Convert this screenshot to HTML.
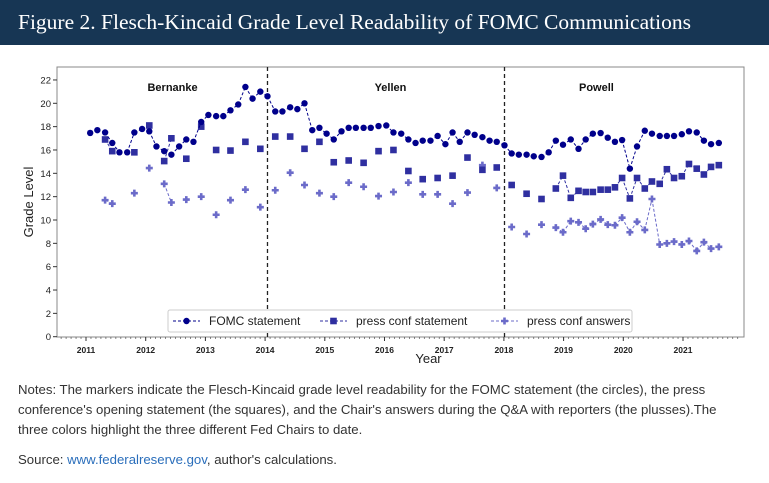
<!DOCTYPE html>
<html><head><meta charset="utf-8"><style>
body{margin:0;width:769px;height:483px;background:#fff;overflow:hidden;font-family:"Liberation Sans",sans-serif}
#hdr{position:absolute;left:0;top:0;width:769px;height:45px;background:#173654;color:#fff;font-family:"Liberation Serif",serif;font-size:21.5px;line-height:45px;padding-left:18px;box-sizing:border-box}
#notes{position:absolute;left:18px;top:380px;width:732px;font-size:13.2px;line-height:20px;color:#333}
#src{position:absolute;left:18px;top:452px;font-size:13.2px;color:#333}
#src span{color:#2a6ebb}
svg{position:absolute;left:0;top:0}
</style></head><body>
<div id="hdr">Figure 2. Flesch-Kincaid Grade Level Readability of FOMC Communications</div>
<svg id="chart" width="769" height="380"></svg>
<div id="notes">Notes: The markers indicate the Flesch-Kincaid grade level readability for the FOMC statement (the circles), the press conference's opening statement (the squares), and the Chair's answers during the Q&amp;A with reporters (the plusses).The three colors highlight the three different Fed Chairs to date.</div>
<div id="src">Source: <span>www.federalreserve.gov</span>, author's calculations.</div>
<script>
const fomcDates=[2011.07,2011.19,2011.32,2011.44,2011.56,2011.69,2011.81,2011.94,2012.06,2012.18,2012.31,2012.43,2012.56,2012.68,2012.80,2012.93,2013.05,2013.18,2013.30,2013.42,2013.55,2013.67,2013.79,2013.92,2014.04,2014.17,2014.29,2014.42,2014.54,2014.66,2014.79,2014.91,2015.03,2015.15,2015.28,2015.40,2015.52,2015.65,2015.77,2015.90,2016.03,2016.15,2016.28,2016.40,2016.52,2016.64,2016.77,2016.89,2017.02,2017.14,2017.26,2017.39,2017.51,2017.64,2017.76,2017.88,2018.01,2018.13,2018.25,2018.38,2018.50,2018.63,2018.75,2018.87,2018.99,2019.12,2019.25,2019.37,2019.49,2019.62,2019.74,2019.86,2019.98,2020.11,2020.23,2020.36,2020.48,2020.61,2020.73,2020.85,2020.98,2021.10,2021.23,2021.35,2021.47,2021.60];
const fomcValues=[17.46,17.7,17.5,16.6,15.8,15.8,17.5,17.8,17.6,16.3,15.9,15.6,16.3,16.9,16.7,18.4,19.0,18.9,18.9,19.4,19.9,21.4,20.4,21.0,20.6,19.3,19.3,19.66,19.5,20.0,17.7,17.9,17.4,16.9,17.6,17.9,17.9,17.9,17.9,18.05,18.1,17.5,17.4,16.9,16.6,16.8,16.8,17.2,16.5,17.5,16.7,17.5,17.3,17.1,16.8,16.7,16.4,15.7,15.6,15.6,15.46,15.4,15.8,16.8,16.45,16.9,16.1,16.9,17.4,17.45,17.05,16.7,16.85,14.4,16.3,17.65,17.4,17.2,17.2,17.2,17.35,17.6,17.5,16.8,16.5,16.6];
const pressDates=[2011.32,2011.44,2011.81,2012.06,2012.31,2012.43,2012.68,2012.93,2013.18,2013.42,2013.67,2013.92,2014.17,2014.42,2014.66,2014.91,2015.15,2015.40,2015.65,2015.90,2016.15,2016.40,2016.64,2016.89,2017.14,2017.39,2017.64,2017.88,2018.13,2018.38,2018.63,2018.87,2018.99,2019.12,2019.25,2019.37,2019.49,2019.62,2019.74,2019.86,2019.98,2020.11,2020.23,2020.36,2020.48,2020.61,2020.73,2020.85,2020.98,2021.10,2021.23,2021.35,2021.47,2021.60];
const pressStmtValues=[16.9,15.9,15.8,18.1,15.05,17.0,15.25,18.0,16.0,15.95,16.7,16.1,17.15,17.15,16.1,16.7,14.95,15.1,14.9,15.9,16.0,14.2,13.5,13.6,13.8,15.35,14.3,14.5,13.0,12.25,11.8,12.7,13.8,11.9,12.5,12.4,12.4,12.6,12.6,12.8,13.6,11.85,13.6,12.7,13.3,13.1,14.35,13.6,13.75,14.8,14.4,13.9,14.55,14.7];
const pressAnsValues=[11.7,11.4,12.3,14.45,13.1,11.5,11.75,12.0,10.45,11.7,12.6,11.1,12.55,14.05,13.0,12.3,12.0,13.2,12.85,12.05,12.4,13.2,12.2,12.2,11.4,12.35,14.7,12.75,9.4,8.8,9.6,9.35,8.95,9.9,9.8,9.25,9.65,10.05,9.6,9.55,10.2,8.95,9.85,9.15,11.8,7.9,8.0,8.15,7.9,8.2,7.35,8.1,7.55,7.7];
const yTicks=[0,2,4,6,8,10,12,14,16,18,20,22];
const xTicks=[2011,2012,2013,2014,2015,2016,2017,2018,2019,2020,2021];
const chairNames=["Bernanke","Yellen","Powell"];
const chairLabelYears=[2012.45,2016.1,2019.55];
const chairBreaks=[2014.04,2018.01];

const NS="http://www.w3.org/2000/svg";
const svg=document.getElementById('chart');
const X=y=>86+(y-2011)*59.7;
const Y=v=>336.7-v*11.67;
const L=57,R=744,T=67,B=337;
function mk(t,a,p){const e=document.createElementNS(NS,t);for(const k in a)e.setAttribute(k,a[k]);(p||svg).appendChild(e);return e;}

const frame=mk('rect',{x:L,y:T,width:R-L,height:B-T,fill:'none',stroke:'#888','stroke-width':1});



yTicks.forEach(v=>{
  mk('line',{x1:L-4,x2:L,y1:Y(v),y2:Y(v),stroke:'#333'});
  const t=mk('text',{x:L-6,y:Y(v)+3.5,'font-size':9.5,'text-anchor':'end',fill:'#222'});
  t.textContent=v;
  
  
});
for(let m=2010.5;m<=2021.95;m+=1/12){const x=X(m);if(x>L&&x<R)mk('line',{x1:x,x2:x,y1:B,y2:B+2,stroke:'#555','stroke-width':0.7});}
xTicks.forEach(v=>{
  mk('line',{x1:X(v),x2:X(v),y1:B,y2:B+4,stroke:'#333'});
  const t=mk('text',{x:X(v),y:B+16,'font-size':8.5,'text-anchor':'middle',fill:'#222','font-weight':'bold'});
  t.textContent=v;
  
  
});
const yt=mk('text',{x:33,y:(T+B)/2,'font-size':13,'text-anchor':'middle',fill:'#222',transform:`rotate(-90 33 ${(T+B)/2})`});
yt.textContent='Grade Level';


const xt=mk('text',{x:(L+R)/2+28,y:B+26,'font-size':13,'text-anchor':'middle',fill:'#222'});
xt.textContent='Year';



chairBreaks.forEach(b=>{
  const l=mk('line',{x1:X(b),x2:X(b),y1:T,y2:B,stroke:'#222','stroke-width':1.3,'stroke-dasharray':'4,3'});
  
  
});
chairNames.forEach((n,i)=>{
  const t=mk('text',{x:X(chairLabelYears[i]),y:91,'font-size':11,'font-weight':'bold','text-anchor':'middle',fill:'#111'});
  t.textContent=n;
  
  
});

function marker(kind,x,y,c,g){
  if(kind==='circle')return mk('circle',{cx:x,cy:y,r:3.2,fill:c},g);
  if(kind==='square')return mk('rect',{x:x-3.3,y:y-3.3,width:6.6,height:6.6,fill:c},g);
  return mk('path',{d:`M${x-3.5} ${y}H${x+3.5}M${x} ${y-3.5}V${y+3.5}`,stroke:c,'stroke-width':2.6},g);
}
function series(dates,vals,kind,c,name){
  const g=mk('g',{});
  
  
  for(let i=1;i<dates.length;i++){
    if(dates[i]-dates[i-1]<0.15)mk('line',{x1:X(dates[i-1]),y1:Y(vals[i-1]),x2:X(dates[i]),y2:Y(vals[i]),stroke:c,'stroke-width':1,'stroke-dasharray':'3,2'},g);
  }
  dates.forEach((d,i)=>{
    const m=marker(kind,X(d),Y(vals[i]),c,g);
    
    
  });
}
series(pressDates,pressAnsValues,'plus','#6b6bc9','press-conf-answers');
series(pressDates,pressStmtValues,'square','#2f2fa0','press-conf-statement');
series(fomcDates,fomcValues,'circle','#00008b','fomc-statement');

const lg=mk('g',{});


mk('rect',{x:168,y:310,width:464,height:22,fill:'#fff',stroke:'#ccc',rx:2},lg);
[['circle','#00008b','FOMC statement',173],['square','#2f2fa0','press conf statement',320],['plus','#6b6bc9','press conf answers',491]].forEach(([k,c,lab,x0])=>{
  mk('line',{x1:x0,x2:x0+27,y1:321,y2:321,stroke:c,'stroke-dasharray':'3,2'},lg);
  marker(k,x0+13.5,321,c,lg);
  const t=mk('text',{x:x0+36,y:325,'font-size':12,fill:'#222'},lg);
  t.textContent=lab;
  
  
});
</script>
</body></html>
